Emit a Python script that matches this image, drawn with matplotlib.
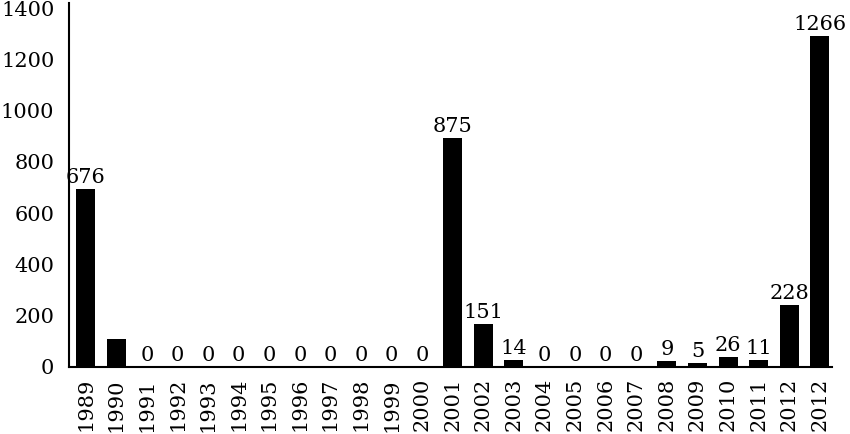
import matplotlib
matplotlib.use("Agg")
import matplotlib.pyplot as plt

# years on the x axis (2012 appears twice in the source)
years = ["1989", "1990", "1991", "1992", "1993", "1994", "1995", "1996",
         "1997", "1998", "1999", "2000", "2001", "2002", "2003", "2004",
         "2005", "2006", "2007", "2008", "2009", "2010", "2011", "2012", "2012"]

# bar heights
heights = [694, 108, 0, 0, 0, 0, 0, 0, 0, 0, 0, 0,
           894, 166, 27, 0, 0, 0, 0, 23, 17, 39, 27, 242, 1292]

# value labels printed above the bars (1990 has none)
labels = ["676", "", "0", "0", "0", "0", "0", "0", "0", "0", "0", "0",
          "875", "151", "14", "0", "0", "0", "0", "9", "5", "26", "11", "228", "1266"]

plt.rcParams["font.family"] = ["DejaVu Serif"]
plt.rcParams["font.size"] = 15

fig = plt.figure(figsize=(8.5, 4.34), dpi=100)
ax = fig.add_axes([0.0812, 0.1544, 0.8973, 0.8387])

x = list(range(len(heights)))
ax.bar(x, heights, width=0.62, color="black")
for xi, h, lab in zip(x, heights, labels):
    if lab:
        ax.annotate(lab, (xi, h), xytext=(0, 4.3), textcoords="offset points",
                    ha="center", va="baseline")

ax.set_xlim(-0.546, 24.39)
ax.set_ylim(0, 1420)
ax.set_yticks(range(0, 1401, 200))
ax.set_xticks(x)
ax.set_xticklabels(years, rotation=90)
ax.tick_params(axis="y", length=0, pad=10.5)
ax.tick_params(axis="x", length=0, pad=8)

for s in ["top", "right"]:
    ax.spines[s].set_visible(False)
for s in ["left", "bottom"]:
    ax.spines[s].set_linewidth(1.5)

fig.savefig("out.png", dpi=100)
